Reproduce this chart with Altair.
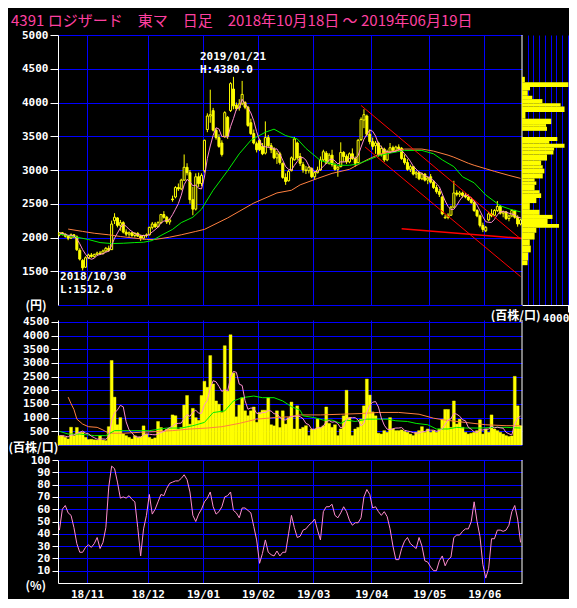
import altair as alt
import pandas as pd

TITLE = "4391 ロジザード　東マ　日足　2018年10月18日 ～ 2019年06月19日"

OPEN = [2040,2070,2050,2020,1990,2040,2010,1810,1660,1560,
        1700,1740,1720,1750,1770,1760,1800,1840,1820,2250,
        2290,2180,2220,2080,2050,2070,2030,2060,2020,1990,
        2030,2040,2150,2200,2160,2220,2340,2300,2230,2570,
        2600,2740,2720,2850,3040,2960,2560,2420,2900,2800,
        2990,3600,3800,3880,3590,3480,3400,3490,3780,3880,
        4200,3960,3920,3980,4000,3930,3700,3540,3390,3440,
        3350,3250,3480,3360,3310,3180,3240,3100,2890,2840,
        2990,3150,3400,3200,3080,3000,2990,3020,2900,2960,
        3000,3150,3250,3100,3220,3080,3010,3050,3260,3200,
        3120,3240,3170,3110,3450,3740,3800,3530,3420,3360,
        3400,3230,3310,3150,3270,3330,3290,3340,3320,3170,
        3110,3010,3050,2940,2960,2870,2940,2850,2900,2820,
        2740,2680,2600,2290,2300,2330,2450,2660,2640,2660,
        2620,2600,2560,2520,2400,2320,2180,2100,2260,2350,
        2330,2400,2460,2360,2380,2280,2320,2400,2300,2200]
HIGH = [2080,2080,2060,2030,2060,2050,2030,1840,1680,1720,
        1760,1770,1760,1790,1800,1820,1860,1880,2250,2360,
        2300,2260,2240,2120,2090,2080,2080,2080,2040,2040,
        2060,2160,2230,2230,2240,2350,2390,2320,2280,2620,
        2760,2800,2870,3230,3100,3000,2750,2950,2960,2950,
        3450,3840,4190,3920,3620,3530,3440,3870,3800,4300,
        4380,4000,4050,4320,4020,3950,3760,3600,3420,3460,
        3400,3720,3520,3400,3340,3280,3270,3110,2950,3000,
        3200,3490,3420,3250,3120,3060,3060,3040,2980,3050,
        3200,3300,3280,3250,3300,3110,3060,3410,3280,3230,
        3260,3320,3200,3460,3780,3900,3820,3600,3480,3430,
        3420,3360,3330,3300,3400,3360,3360,3380,3340,3230,
        3160,3080,3060,2990,2980,2960,2950,2900,2940,2850,
        2780,2720,2620,2340,2360,2470,2840,2700,2690,2680,
        2660,2640,2600,2540,2420,2340,2220,2170,2380,2420,
        2420,2540,2480,2400,2390,2340,2420,2410,2330,2280]
LOW = [2020,2030,2000,1960,1980,1990,1800,1660,1512,1550,
       1680,1700,1700,1730,1740,1750,1780,1790,1820,2200,
       2150,2100,2060,2020,2010,2010,2000,2010,1950,1970,
       2000,2030,2120,2140,2150,2200,2280,2200,2190,2530,
       2580,2690,2700,2840,2920,2500,2330,2400,2750,2760,
       2960,3560,3700,3570,3450,3330,3200,3480,3460,3860,
       3900,3880,3880,3960,3900,3640,3520,3380,3260,3280,
       3220,3230,3330,3250,3160,3090,3080,2870,2780,2830,
       2980,3140,3150,3060,2960,2940,2950,2880,2860,2950,
       2990,3130,3090,3080,3050,2990,2900,3040,3120,3090,
       3100,3150,3050,3100,3430,3620,3500,3380,3300,3240,
       3200,3200,3120,3130,3250,3260,3270,3280,3150,3080,
       2990,2970,2920,2880,2850,2850,2830,2790,2800,2720,
       2650,2600,2330,2280,2270,2320,2440,2610,2600,2590,
       2580,2540,2500,2380,2300,2150,2080,2080,2240,2300,
       2320,2380,2340,2300,2260,2240,2300,2280,2160,2180]
CLOSE = [2070,2050,2020,1990,2040,2010,1820,1680,1550,1700,
         1740,1720,1750,1770,1760,1800,1840,1810,2200,2300,
         2180,2220,2080,2050,2070,2030,2060,2020,1990,2030,
         2040,2150,2200,2160,2220,2340,2300,2230,2260,2560,
         2740,2720,2850,3040,2960,2560,2420,2900,2800,2920,
         3440,3800,3820,3590,3480,3350,3230,3850,3500,4280,
         3950,3910,3980,4120,3930,3660,3540,3400,3300,3300,
         3240,3480,3360,3300,3180,3240,3110,2890,2830,2980,
         3180,3460,3180,3100,3000,2990,3040,2900,2960,3000,
         3150,3270,3100,3220,3080,3010,3040,3260,3200,3120,
         3240,3170,3100,3440,3750,3820,3530,3420,3350,3400,
         3230,3320,3150,3270,3330,3290,3340,3310,3170,3110,
         3010,3050,2940,2960,2870,2940,2850,2880,2820,2740,
         2680,2640,2350,2300,2330,2450,2660,2640,2660,2620,
         2600,2560,2520,2400,2320,2180,2120,2150,2350,2320,
         2400,2460,2360,2380,2280,2320,2400,2300,2200,2260]
VOLUME = [340,340,283,220,650,340,640,460,460,280,
          200,210,190,180,340,180,160,670,3090,1750,
          740,1000,400,340,280,220,340,280,300,700,
          400,280,220,260,860,640,500,580,620,1100,
          1070,580,640,1460,1810,760,1340,1000,900,1810,
          2330,2110,3270,2230,1610,1490,1190,3630,1970,4030,
          2630,1030,1460,1730,1250,1070,1250,1390,830,1190,
          1270,1270,1730,740,700,1250,640,1250,765,1000,
          1570,585,1430,585,645,705,343,585,585,945,
          645,700,1390,790,645,740,343,585,1066,2000,
          1000,343,585,645,945,1430,2410,1825,1210,1066,
          430,400,525,465,1000,585,525,525,550,500,
          465,400,343,465,525,670,465,585,465,525,
          465,585,945,1300,1300,645,1610,765,945,645,
          465,400,430,465,525,920,400,585,465,1100,
          585,525,465,400,343,310,330,2510,1430,705]
RSI = [43,60,63,57,55,45,32,25,25,29,
       31,29,32,37,28,33,45,78,95,93,
       82,69,70,69,71,68,66,45,22,44,
       55,72,56,60,66,72,71,77,81,82,
       83,83,85,88,84,74,55,50,56,60,
       66,69,74,62,56,58,62,70,71,74,
       59,57,53,61,61,59,57,46,35,16,
       24,35,25,23,22,26,22,25,25,40,
       55,45,37,38,43,44,47,49,52,43,
       35,58,62,62,64,55,53,57,62,58,
       51,47,49,49,53,70,76,72,61,62,
       58,55,58,54,44,30,19,19,28,34,
       37,32,30,28,37,30,18,17,13,10,
       10,18,22,14,19,21,37,39,39,42,
       44,44,50,66,50,38,15,4,12,36,
       36,43,43,42,43,47,58,63,52,33]

# moving-average lines (day index, value)
MA25_I = [0,3,6,10,14,18,22,26,29,32,35,39,42,46,49,53,58,62,66,71,74,78,82,85,90,96,100,103,106,110,114,119,125,129,132,136,139,143,147,152,156,159]
MA25_V = [2050,2030,2005,1970,1925,1910,1915,1925,1930,1955,2030,2120,2220,2300,2420,2700,2990,3240,3440,3560,3605,3510,3460,3320,3140,3070,3070,3090,3140,3210,3250,3290,3290,3240,3150,3050,2900,2810,2630,2470,2410,2380]
MA75_I = [3,8,12,17,21,26,30,33,38,42,47,50,58,67,75,80,83,89,94,100,103,106,110,113,119,125,129,134,136,141,143,150,155,159]
MA75_V = [2125,2090,2063,2040,2015,1990,1971,1971,2005,2040,2090,2120,2290,2510,2660,2700,2780,2875,2950,3010,3080,3150,3230,3260,3310,3310,3280,3220,3190,3100,3070,2980,2920,2876]
VMA25_I = [0,3,7,12,16,19,25,31,37,42,46,50,53,57,60,63,67,70,74,77,80,83,84,88,91,94,97,99,102,106,109,113,116,120,123,127,130,134,137,140,145,150,154,159]
VMA25_V = [500,400,400,343,343,524,524,524,620,620,705,825,1187,1247,1610,1730,1790,1730,1730,1610,1400,1270,1066,1000,910,910,790,910,860,945,945,945,885,860,790,740,585,585,645,620,620,645,645,620]
VMA75_I = [3,4,5,6,8,10,13,15,17,22,28,33,39,45,51,56,62,68,74,79,83,90,97,104,110,117,124,129,133,140,147,154,159]
VMA75_V = [1750,1510,1300,945,765,670,645,550,430,430,465,490,525,585,620,670,790,945,1000,1030,1100,1100,1125,1150,1190,1190,1125,980,910,825,740,705,705]

# price-by-volume profile (price band, volume in 百株)
PROFILE_LO = [4300,4230,4180,4100,4050,3990,3940,3860,3760,3680,3640,3580,3430,3390,3330,3290,3230,3140,3070,3020,2950,2875,2830,2780,2700,2655,2585,2510,2410,2335,2275,2200,2145,2070,1970,1880,1780,1660,1590]
PROFILE_HI = [4380,4300,4230,4180,4100,4050,3990,3940,3860,3760,3680,3640,3490,3430,3390,3330,3290,3230,3140,3070,3020,2950,2875,2830,2780,2700,2655,2585,2510,2410,2335,2275,2200,2145,2070,1970,1880,1780,1660]
PROFILE_VOL = [250,4050,700,500,900,1780,3370,3710,300,2550,2100,2180,3080,2380,3710,2800,2740,2180,1670,1810,1950,1810,1100,1250,1100,1530,1670,1250,680,1530,2660,2230,3230,1250,1100,680,765,535,480]

# trend lines (day-index position, price)
TREND_FROM_I = [104.5, 105.9]
TREND_FROM_P = [3956, 3340]
TREND_TO_I = [159.3, 159.5]
TREND_TO_P = [1987, 1421]
SUPPORT_FROM_I = [118.5]
SUPPORT_FROM_P = [2129]
SUPPORT_TO_I = [159.9]
SUPPORT_TO_P = [1987]

MONTH_POS = [10, 31, 50, 69, 88, 108, 128, 147]
MONTH_LABELS = ["18/11", "18/12", "19/01", "19/02", "19/03", "19/04", "19/05", "19/06"]
PRICE_TICKS = [1500, 2000, 2500, 3000, 3500, 4000, 4500, 5000]
VOLUME_TICKS = [500, 1000, 1500, 2000, 2500, 3000, 3500, 4000, 4500]
RSI_TICKS = [10, 20, 30, 40, 50, 60, 70, 80, 90, 100]
PROFILE_TICKS = [500, 1000, 1500, 2000, 2500, 3000, 3500, 4000]
HIGH_NOTE = ["2019/01/21", "H:4380.0"]
LOW_NOTE = ["2018/10/30", "L:1512.0"]

# ---------------- style ----------------
YELLOW = "#ffff00"
BLUE = "#0000ff"
PINK = "#ff8ccf"
GREEN = "#00ee00"
ORANGE = "#ff8040"
RED = "#ff0000"
TITLE_PINK = "#ff40a0"
MONO = "DejaVu Sans Mono"
CJK = "Noto Sans CJK JP"

N = len(CLOSE)
W, WP = 464, 47
HP, HV, HR = 270, 125, 123
SP = 15

candles = pd.DataFrame({"i": list(range(N)), "o": OPEN, "h": HIGH, "l": LOW, "c": CLOSE, "v": VOLUME, "r": RSI})
candles["xc"] = candles["i"] + 0.5
candles["xl"] = candles["i"] + 0.15
candles["xr"] = candles["i"] + 0.85
candles["vl"] = candles["i"] + 0.0
candles["vr"] = candles["i"] + 1.0
candles["up"] = candles["c"] >= candles["o"]
candles["ma5"] = candles["c"].rolling(5, min_periods=1).mean()
candles["vma5"] = candles["v"].rolling(5, min_periods=1).mean()
candles["zero"] = 0

def knots(idx, vals):
    return pd.DataFrame({"xc": [k + 0.5 for k in idx], "val": vals})

XS = alt.Scale(domain=[0, N], range=[0, W], nice=False, zero=False)
PS_SCALE = alt.Scale(domain=[1000, 5000], nice=False, zero=False)
VS_SCALE = alt.Scale(domain=[0, 4570], nice=False, zero=True)
RS_SCALE = alt.Scale(domain=[0, 100], nice=False)
PROF_SCALE = alt.Scale(domain=[0, 4100], range=[W, W + WP], nice=False, zero=True)

GRID_X_AXIS = alt.Axis(orient="bottom", values=MONTH_POS, labels=False, ticks=False,
                       domain=True, domainColor=BLUE, title=None, grid=True)
month_expr = " : ".join(f"datum.value == {p} ? '{l}'" for p, l in zip(MONTH_POS, MONTH_LABELS)) + " : ''"
RSI_X_AXIS = alt.Axis(orient="bottom", values=MONTH_POS, labelExpr=month_expr, ticks=False,
                      domain=True, domainColor="white", title=None, grid=True, labelPadding=5)
PRICE_AXIS = alt.Axis(values=PRICE_TICKS, format="d", title="(円)", titleAngle=0, titleAlign="left",
                      titleBaseline="middle", titleX=-33, titleY=HP, tickSize=8, labelPadding=2, grid=True)
VOL_AXIS = alt.Axis(values=VOLUME_TICKS, format="d", title="(百株/口)", titleAngle=0, titleAlign="left",
                    titleBaseline="middle", titleX=-50, titleY=HV + 2, tickSize=7, labelPadding=2, grid=True)
RSI_AXIS = alt.Axis(values=RSI_TICKS, format="d", title="(%)", titleAngle=0, titleAlign="left",
                    titleBaseline="middle", titleX=-33, titleY=HR + 2, tickSize=6, labelPadding=2, grid=True)
PROFILE_AXIS = alt.Axis(orient="bottom", values=PROFILE_TICKS,
                        labelExpr="datum.value == 4000 ? '4000' : ''",
                        tickColor={"condition": {"test": "datum.value == 4000", "value": "white"}, "value": "transparent"},
                        tickSize=7, labelPadding=0, labelAlign="right", labelOffset=1,
                        domainColor="white", grid=True, title="(百株/口)", titleAngle=0,
                        titleAlign="right", titleBaseline="middle", titleX=482, titleY=10)

def X(field, axis=GRID_X_AXIS):
    return alt.X(f"{field}:Q", scale=XS, axis=axis)

def PY(field):
    return alt.Y(f"{field}:Q", scale=PS_SCALE, axis=PRICE_AXIS)

def VY(field):
    return alt.Y(f"{field}:Q", scale=VS_SCALE, axis=VOL_AXIS)

# ---------------- price panel ----------------
base = alt.Chart(candles)
wicks = base.mark_rule(color=YELLOW, strokeWidth=1).encode(x=X("xc"), y=PY("l"), y2="h")
bodies = base.mark_bar(stroke=YELLOW, strokeWidth=1).encode(
    x=X("xl"), x2="xr", y=PY("o"), y2="c",
    fill=alt.condition("datum.up", alt.value("black"), alt.value(YELLOW)))
ma5 = base.mark_line(color=PINK, strokeWidth=1).encode(x=X("xc"), y=PY("ma5"))
ma25 = alt.Chart(knots(MA25_I, MA25_V)).mark_line(color=GREEN, strokeWidth=1).encode(x=X("xc"), y=PY("val"))
ma75 = alt.Chart(knots(MA75_I, MA75_V)).mark_line(color=ORANGE, strokeWidth=1).encode(x=X("xc"), y=PY("val"))

trend_df = pd.DataFrame({"x1": TREND_FROM_I, "y1": TREND_FROM_P, "x2": TREND_TO_I, "y2": TREND_TO_P})
trend = alt.Chart(trend_df).mark_rule(color=RED, strokeWidth=1).encode(x=X("x1"), x2="x2", y=PY("y1"), y2="y2")
sup_df = pd.DataFrame({"x1": SUPPORT_FROM_I, "y1": SUPPORT_FROM_P, "x2": SUPPORT_TO_I, "y2": SUPPORT_TO_P})
support = alt.Chart(sup_df).mark_rule(color=RED, strokeWidth=1.6).encode(x=X("x1"), x2="x2", y=PY("y1"), y2="y2")

i_hi = HIGH.index(max(HIGH))
i_lo = LOW.index(min(LOW))
notes = pd.DataFrame({"xc": [i_hi + 0.5, i_lo + 0.5], "p": [HIGH[i_hi], LOW[i_lo]],
                      "t": ["\n".join(HIGH_NOTE), "\n".join(LOW_NOTE)]})
txt = dict(align="left", baseline="top", color="white", font=MONO, fontSize=11,
           fontWeight="bold", lineBreak="\n", lineHeight=13)
hi_note = alt.Chart(notes).transform_filter(alt.datum.p > 3000).mark_text(dx=-33.5, dy=-26, **txt).encode(
    x=X("xc"), y=PY("p"), text="t:N")
lo_note = alt.Chart(notes).transform_filter(alt.datum.p < 3000).mark_text(dx=-22.6, dy=1, **txt).encode(
    x=X("xc"), y=PY("p"), text="t:N")

edge = pd.DataFrame({"e": [N]})
p_border = alt.Chart(edge).mark_rule(color="white", strokeWidth=1).encode(x=X("e"))

prof_df = pd.DataFrame({"lo": PROFILE_LO, "hi": PROFILE_HI, "vol": PROFILE_VOL, "z": [0] * len(PROFILE_VOL)})
profile = alt.Chart(prof_df).mark_bar(color=YELLOW).encode(
    x=alt.X("vol:Q", scale=PROF_SCALE, axis=PROFILE_AXIS), x2="z", y=PY("lo"), y2="hi")

price_core = alt.layer(wicks, bodies, ma75, ma25, ma5, trend, support, hi_note, lo_note, p_border)
price = alt.layer(price_core, profile).resolve_scale(x="independent").properties(width=W + WP, height=HP)

# ---------------- volume panel ----------------
vbars = base.mark_bar(color=YELLOW, stroke=YELLOW, strokeWidth=0.4).encode(x=X("vl"), x2="vr", y=VY("v"), y2="zero")
vma5 = base.mark_line(color=PINK, strokeWidth=1).encode(x=X("xc"), y=VY("vma5"))
vma25 = alt.Chart(knots(VMA25_I, VMA25_V)).mark_line(color=GREEN, strokeWidth=1).encode(x=X("xc"), y=VY("val"))
vma75 = alt.Chart(knots(VMA75_I, VMA75_V)).mark_line(color=ORANGE, strokeWidth=1).encode(x=X("xc"), y=VY("val"))
v_border = alt.Chart(edge).mark_rule(color="white", strokeWidth=1).encode(x=X("e"))
volume = alt.layer(vbars, vma75, vma25, vma5, v_border).properties(width=W, height=HV)

# ---------------- oscillator panel ----------------
rline = base.mark_line(color=PINK, strokeWidth=1).encode(
    x=X("xc", RSI_X_AXIS), y=alt.Y("r:Q", scale=RS_SCALE, axis=RSI_AXIS))
r_border = alt.Chart(edge).mark_rule(color="white", strokeWidth=1).encode(x=X("e", RSI_X_AXIS))
osc = alt.layer(rline, r_border).properties(width=W, height=HR)

chart = alt.vconcat(price, volume, osc, spacing=SP, bounds="flush").properties(
    title=alt.TitleParams(text=TITLE, anchor="start", color=TITLE_PINK, font=CJK, fontSize=15,
                          fontWeight="normal", offset=0, dx=3),
    background="black", padding={"top": 6, "left": 0, "right": 0, "bottom": 0},
).configure_view(stroke=None).configure_axis(
    labelColor="white", labelFont=MONO, labelFontSize=11, labelFontWeight="bold",
    labelOverlap=False, labelFlush=False,
    gridColor=BLUE, gridOpacity=1, gridWidth=1,
    domainColor="white", domainWidth=1, tickColor="white", tickWidth=1,
    titleColor="white", titleFont=CJK, titleFontSize=12, titleFontWeight="bold",
)

chart.save("out.html", embed_options={"renderer": "svg", "actions": False})
